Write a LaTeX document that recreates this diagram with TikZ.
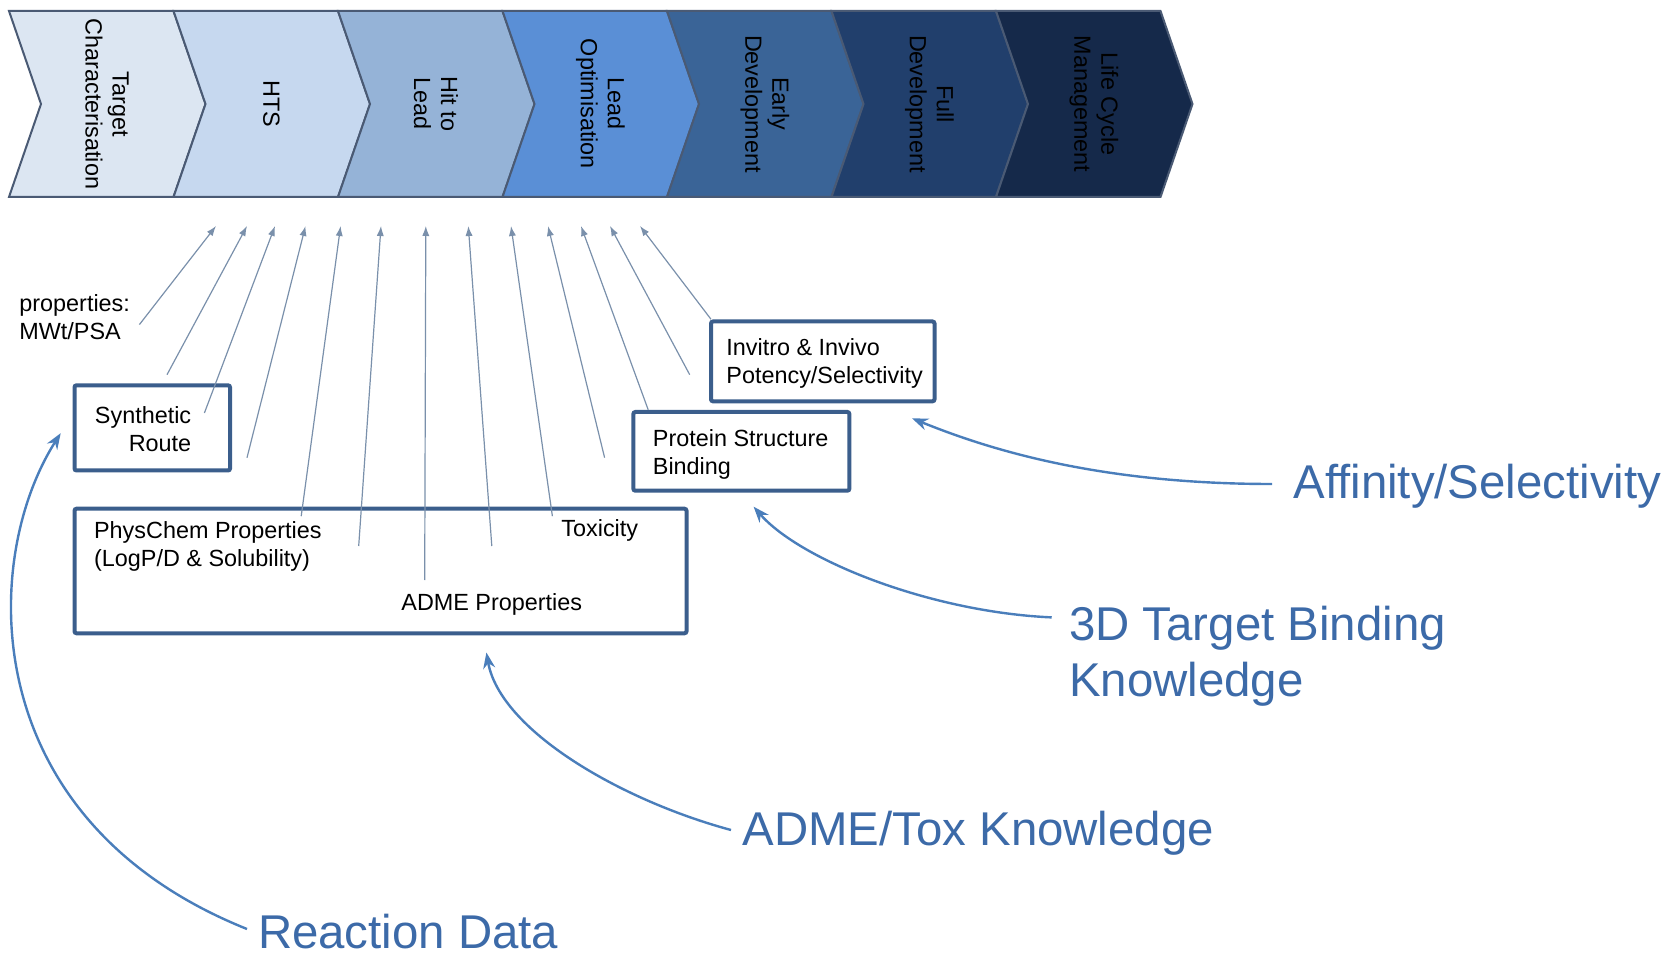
\documentclass[tikz,border=0pt]{standalone}
\usepackage{fontspec}
\setmainfont{Liberation Sans}
\usepackage{tikz}
\usetikzlibrary{arrows.meta}
\definecolor{StageA}{HTML}{DCE6F2}
\definecolor{StageB}{HTML}{C6D8EF}
\definecolor{StageC}{HTML}{95B3D7}
\definecolor{StageD}{HTML}{5A8FD6}
\definecolor{StageE}{HTML}{3A6497}
\definecolor{StageF}{HTML}{213F6C}
\definecolor{StageG}{HTML}{15294A}
\definecolor{StageLine}{HTML}{4A5A74}
\definecolor{Frame}{HTML}{3B5E8C}
\definecolor{Feed}{HTML}{7A90AB}
\definecolor{Know}{HTML}{4A7EBB}
\definecolor{KnowText}{HTML}{3C6AA8}

\begin{document}
\begin{tikzpicture}[x=0.5pt,y=-0.5pt,
  stage/.style={draw=StageLine,line width=1pt},
  stagetext/.style={rotate=-90,align=center,font=\fontsize{11.7}{13.5}\selectfont},
  propbox/.style={draw=Frame,line width=2pt,rounded corners=1pt,inner sep=0pt},
  feed/.style={Feed,line width=0.6pt,-{Latex[length=5pt,width=3.6pt]}},
  know/.style={Know,line width=1.2pt,-{Stealth[length=8pt,width=6pt]}},
  note/.style={anchor=west,align=left,inner sep=0pt,font=\fontsize{11.7}{14}\selectfont},
  bignote/.style={anchor=west,align=left,inner sep=0pt,KnowText,font=\fontsize{23.7}{28}\selectfont}]
  \useasboundingbox (0,0) rectangle (1669,956);
  \foreach \i/\col/\txt in {0/StageA/{Target\\Characterisation},1/StageB/HTS,2/StageC/{Hit to\\Lead},
      3/StageD/{Lead\\Optimisation},4/StageE/{Early\\Development},5/StageF/{Full\\Development},
      6/StageG/{Life Cycle\\Management}}{
    \pgfmathsetmacro\xa{9+\i*164.5}
    \draw[stage,fill=\col] (\xa,11) -- ++(164.5,0) -- ++(32,93) -- ++(-32,93) -- ++(-164.5,0) -- ++(32,-93) -- cycle;
    \node[stagetext] (stage\i) at (\xa+98,104) {\txt};
  }
  \node[propbox,minimum width=77.75pt,minimum height=42.6pt] (synbox) at (152.25,427.9) {};
  \node[propbox,minimum width=306pt,minimum height=62.25pt] (bigbox) at (380.5,571) {};
  \node[propbox,minimum width=108pt,minimum height=39.35pt] (protbox) at (741.35,451.35) {};
  \node[propbox,minimum width=111.75pt,minimum height=39.9pt] (invbox) at (822.75,361.4) {};
  \node[note] (props) at (19,317) {properties:\\MWt/PSA};
  \node[note,anchor=east,align=right] (synth) at (191.6,429.5) {Synthetic\\Route};
  \node[note] (physchem) at (93.7,546.5) {PhysChem Properties\\(LogP/D \& Solubility)};
  \node[note] (tox) at (561,530) {Toxicity};
  \node[note] (adme) at (401,604.6) {ADME Properties};
  \node[note] (protein) at (652.5,454) {Protein Structure\\Binding};
  \node[note] (invitro) at (726,363.5) {Invitro \& Invivo\\Potency/Selectivity};
  \foreach \i/\hx/\tx/\ty in {1/216/139.4/324.6,2/247/167/374.7,3/275/204.4/413,4/305.5/247/457.7,
      5/340.6/301.2/516.2,6/381/358.7/546,7/425.8/424.7/580,8/468.3/491.8/546,9/511/552.4/516.2,
      10/548/604.6/457.7,11/581/648.2/409.8,12/610/689.7/374.7,13/640/711/319.3}{
    \coordinate (head\i) at (\hx,226);
    \coordinate (tail\i) at (\tx,\ty);
    \draw[feed] (tail\i) -- (head\i);
  }
  \node[bignote] (affinity) at (1293,486.4) {Affinity/Selectivity};
  \node[bignote] (target3d) at (1068.7,656.2) {3D Target Binding\\Knowledge};
  \node[bignote] (admetox) at (742,833.4) {ADME/Tox Knowledge};
  \node[bignote] (reaction) at (257.6,932) {Reaction Data};
  \coordinate (affstart) at (1272,484);
  \coordinate (affend) at (912,418.3);
  \coordinate (tgtstart) at (1051.7,617.4);
  \coordinate (tgtend) at (753.6,506.7);
  \coordinate (admestart) at (731,830);
  \coordinate (admeend) at (486.4,652.5);
  \coordinate (rxnstart) at (247,929);
  \coordinate (rxnend) at (60.7,433.2);
  \draw[know] (affstart) .. controls (1100,484) and (990,450) .. (affend);
  \draw[know] (tgtstart) .. controls (930,612) and (800,560) .. (tgtend);
  \draw[know] (admestart) .. controls (620,800) and (500,730) .. (admeend);
  \draw[know] (rxnstart) .. controls (-25,820) and (-20,560) .. (rxnend);
\end{tikzpicture}
\end{document}
